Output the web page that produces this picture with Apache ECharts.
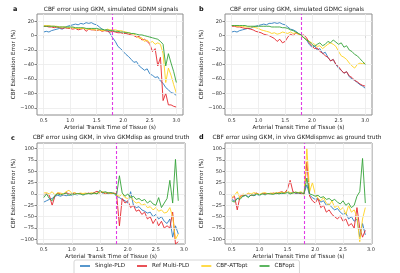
<!DOCTYPE html>
<html>
<head>
<meta charset="utf-8">
<script src="https://cdn.jsdelivr.net/npm/echarts@6/dist/echarts.min.js"></script>
<style>html,body{margin:0;padding:0;background:#fff}#main{width:400px;height:273px}</style>
</head>
<body>
<div id="main"></div>
<script>
// x grid (ATT, s)
var xsAB = [0.5,0.55,0.6,0.65,0.7,0.75,0.8,0.85,0.9,0.95,1.0,1.05,1.1,1.15,1.2,1.25,1.3,1.35,1.4,1.45,1.5,1.55,1.6,1.65,1.7,1.75,1.8,1.85,1.9,1.95,2.0,2.05,2.1,2.15,2.2,2.25,2.3,2.35,2.4,2.45,2.5,2.55,2.6,2.65,2.7,2.75,2.8,2.85,2.9,2.95,3.0];
var xsCD = [0.5,0.55,0.6,0.65,0.7,0.75,0.8,0.85,0.9,0.95,1.0,1.05,1.1,1.15,1.2,1.25,1.3,1.35,1.4,1.45,1.5,1.55,1.6,1.65,1.7,1.75,1.8,1.85,1.9,1.95,2.0,2.05,2.1,2.15,2.2,2.25,2.3,2.35,2.4,2.45,2.5,2.55,2.6,2.65,2.7,2.75,2.8,2.85,2.9];

var names = ['Single-PLD', 'Ref Multi-PLD', 'CBF-ATTopt', 'CBFopt'];
var colors = ['#2d7dc0', '#e4262d', '#ffd21f', '#34a339'];

var titles = [
  'CBF error using GKM, simulated GDNM signals',
  'CBF error using GKM, simulated GDMC signals',
  'CBF error using GKM, in vivo GKMdisp as ground truth',
  'CBF error using GKM, in vivo GKMdispmvc as ground truth'
];

var xTicks = [0.5, 1.0, 1.5, 2.0, 2.5, 3.0];
var yTicksAB = [-100, -80, -60, -40, -20, 0, 20];
var yTicksCD = [-100, -75, -50, -25, 0, 25, 50, 75, 100];
var attLine = 1.8;

// panel a
var aSingle = [5,6,5,7,8,9,10,9,11,13, 14,15,16,15,17,16,18,17,18,16, 15,12,9,7,8,3,-3,-8,-15,-18, -22,-26,-29,-33,-37,-36,-42,-45,-48,-46, -53,-55,-58,-57,-63,-66,-72,-75,-79,-80, -83];
var aMulti  = [13,13,12,12,11,12,11,10,11,10, 10,9,10,8,9,10,6,9,8,8, 7,8,6,7,6,5,6,5,4,4, 3,3,2,1,0,-2,-1,-6,-5,-8, -12,-22,-18,-42,-30,-90,-80,-96,-96,-98, -99];
var aAtt    = [14,14,14,13,13,13,12,12,12,11, 11,11,10,10,10,10,9,9,9,8, 8,8,7,7,9,8,8,8,7,7, 6,5,4,3,2,0,-4,-3,-8,-6, -10,-8,-12,-10,-12,-25,-65,-45,-55,-68, -80];
var aOpt    = [13,13,13,13,13,12,12,12,12,12, 12,12,11,11,11,11,10,10,10,10, 10,9,9,8,8,7,7,6,6,5, 5,4,4,3,3,2,1,1,0,-1, -2,-3,-4,-5,-8,-12,-42,-25,-38,-50, -65];

// panel b
var bSingle = [5,6,5,7,8,9,10,10,12,13, 14,15,16,15,17,17,18,17,18,16, 15,12,9,8,6,3,0,-3,-6,-12, -16,-14,-20,-18,-25,-23,-30,-35,-33,-40, -45,-48,-52,-50,-57,-60,-62,-65,-68,-70, -73];
var bMulti  = [13,13,12,12,11,10,10,9,8,6, 5,4,2,1,0,-2,-4,-8,-5,-10, -8,-2,2,0,4,2,0,1,-3,-10, -14,-18,-17,-22,-24,-28,-30,-35,-33,-40, -43,-48,-52,-50,-56,-58,-62,-64,-67,-69, -70];
var bAtt    = [14,14,13,13,13,12,12,12,12,11, 10,8,7,6,5,3,4,2,3,5, 4,3,5,3,4,2,0,-3,-6,-8, -10,-12,-15,-14,-18,-15,-12,-10,-12,-15, -22,-28,-30,-33,-38,-42,-45,-40,-38,-39, -38];
var bOpt    = [14,14,14,14,14,14,13,13,13,13, 13,13,13,13,13,12,12,12,12,11, 11,10,8,7,5,3,1,-3,-6,-8, -12,-15,-12,-10,-14,-12,-8,-10,-6,-9, -12,-10,-16,-14,-20,-22,-26,-28,-32,-36, -40];

// panel c
var cSingle = [-18,-15,-12,-10,-5,-3,-5,-2,-4,-2, -3,-1,-2,0,-2,-1,0,-1,2,0, 5,2,3,0,2,1,-5,-8,-12,-15, -20,5,-25,-30,-28,-35,-38,-42,-40,-50, -45,-55,-50,-60,-65,-55,-95,-70,-88];
var cMulti  = [-2,0,-3,-25,-5,2,0,-2,3,0, -1,2,0,1,-1,0,2,0,3,6, 2,4,0,3,1,2,0,-70,-10,-20, -15,-30,-25,-38,-35,-45,-40,-55,-50,-65, -55,-70,-60,-75,-70,-75,-40,-110,-105];
var cAtt    = [2,3,0,5,-2,3,2,0,5,8, 2,3,0,2,1,2,0,3,1,2, 3,5,2,3,0,2,-3,-5,0,-8, -10,-5,-15,-20,-18,-25,-22,-30,-28,-35, -30,-38,-35,-42,-40,-30,-50,-100,-88];
var cOpt    = [-8,0,-10,-15,-3,0,-2,0,2,-3, 0,-1,1,0,-2,0,1,0,2,0, 8,3,5,2,3,1,-2,40,2,-5, 0,-8,-5,-12,-10,-15,-12,-20,-15,-22, -25,-8,-30,-20,-10,30,-20,76,-15];

// panel d
var dSingle = [-12,-15,-10,-8,-5,-3,-6,-2,-4,-1, -3,0,-2,0,-1,1,0,2,0,3, 5,2,4,1,2,0,2,20,-3,-8, -12,-10,-18,-15,-25,-22,-30,-35,-32,-40, -45,-42,-55,-50,-60,-55,-95,-65,-90];
var dMulti  = [-10,-5,-35,-5,-3,-2,0,-3,-1,2, -2,0,1,-1,0,2,0,3,5,2, 10,30,5,2,3,0,0,70,-5,-15, -20,-10,-30,-25,-40,-35,-45,-50,-55,-48, -60,-55,-70,-65,-75,-30,-75,-95,-80];
var dAtt    = [-8,-3,5,-10,0,-2,2,0,3,1, -1,2,3,0,2,1,3,2,4,2, 6,3,2,4,3,5,-3,100,5,25, 0,-10,-15,-8,-20,-25,-15,-30,-25,-35, -30,-45,-25,-40,-35,-50,-105,-55,-30];
var dOpt    = [-15,-18,-10,-12,-5,-3,-8,-2,-3,0, -2,0,-1,1,0,-1,2,0,2,1, 3,0,2,4,2,3,0,35,0,-2, -5,-3,-8,-6,-12,-10,-15,-12,-18,-22, -15,-25,-20,-30,-25,-5,5,78,-20];

var panels = [
  { xs: xsAB, ys: [aSingle, aMulti, aAtt, aOpt] },
  { xs: xsAB, ys: [bSingle, bMulti, bAtt, bOpt] },
  { xs: xsCD, ys: [cSingle, cMulti, cAtt, cOpt] },
  { xs: xsCD, ys: [dSingle, dMulti, dAtt, dOpt] }
];

var font = 'DejaVu Sans';
var grids = [
  { left: 37, top: 14, width: 146, height: 101 },
  { left: 225, top: 14, width: 147, height: 101 },
  { left: 37, top: 143, width: 148, height: 101 },
  { left: 225, top: 143, width: 147, height: 101 }
];
var xRanges = [[0.375, 3.125], [0.375, 3.125], [0.38, 3.02], [0.38, 3.02]];
var yRanges = [[-110, 30], [-110, 30], [-110, 112], [-110, 112]];
var titleCenters = [[111, 6], [297, 6], [111, 134.5], [297, 134.5]];
var letters = [['a', 13, 6], ['b', 199, 6], ['c', 11, 135], ['d', 199, 134]];

function fmtNum(v) {
  return v < 0 ? '\u2212' + Math.abs(v) : String(v);
}

var chartDom = document.getElementById('main');
var myChart = echarts.init(chartDom, null, { renderer: 'canvas' });

var xAxes = [], yAxes = [], series = [], titleList = [];
grids.forEach(function (g, i) {
  g.show = true;
  g.borderColor = '#8c8c8c';
  g.borderWidth = 1;
  g.backgroundColor = '#fff';
  g.containLabel = false;

  xAxes.push({
    type: 'value', gridIndex: i, min: xRanges[i][0], max: xRanges[i][1],
    name: 'Arterial Transit Time of Tissue (s)', nameLocation: 'middle', nameGap: 10,
    nameTextStyle: { fontSize: 5.6, color: '#222', fontFamily: font },
    axisLine: { show: false },
    axisTick: { show: true, length: 2.5, customValues: xTicks, lineStyle: { color: '#666', width: 0.8 } },
    axisLabel: { fontSize: 5, color: '#333', margin: 3, fontFamily: font, customValues: xTicks,
      formatter: function (v) { return v.toFixed(1); } },
    splitLine: { show: false }
  });
  var yt = i < 2 ? yTicksAB : yTicksCD;
  yAxes.push({
    type: 'value', gridIndex: i, min: yRanges[i][0], max: yRanges[i][1],
    name: 'CBF Estimation Error (%)', nameLocation: 'middle', nameGap: 18, nameRotate: 90,
    nameTextStyle: { fontSize: 5.6, color: '#222', fontFamily: font },
    axisLine: { show: false },
    axisTick: { show: true, length: 2.5, customValues: yt, lineStyle: { color: '#666', width: 0.8 } },
    axisLabel: { fontSize: 5, color: '#333', margin: 3, fontFamily: font, customValues: yt, formatter: fmtNum },
    splitLine: { show: false }
  });

  titleList.push({
    text: titles[i], left: titleCenters[i][0], top: titleCenters[i][1], textAlign: 'center', padding: 0,
    textStyle: { fontSize: 5.8, fontWeight: 'normal', color: '#222', fontFamily: font }
  });
  titleList.push({
    text: letters[i][0], left: letters[i][1], top: letters[i][2], padding: 0,
    textStyle: { fontSize: 6.5, fontWeight: 'bold', color: '#111', fontFamily: font }
  });

  // light grid lines at the tick values
  var gridLines = xTicks.map(function (v) { return { xAxis: v }; })
    .concat(yt.map(function (v) { return { yAxis: v }; }));
  series.push({
    type: 'line', xAxisIndex: i, yAxisIndex: i, data: [], z: 1,
    markLine: {
      silent: true, symbol: 'none', label: { show: false }, animation: false,
      lineStyle: { color: '#ebebeb', type: 'solid', width: 0.8 },
      data: gridLines
    }
  });

  var p = panels[i];
  p.ys.forEach(function (ys, k) {
    var s = {
      name: names[k], type: 'line', xAxisIndex: i, yAxisIndex: i,
      data: p.xs.map(function (x, j) { return [x, ys[j]]; }),
      showSymbol: false, symbol: 'none',
      lineStyle: { color: colors[k], width: 0.9 },
      itemStyle: { color: colors[k] },
      z: 2 + k
    };
    if (k === 3) {
      s.markLine = {
        silent: true, symbol: 'none', label: { show: false },
        lineStyle: { color: '#e03be6', type: [3, 2], width: 1.1 },
        data: [{ xAxis: attLine }]
      };
    }
    series.push(s);
  });
});

var option = {
  animation: false,
  backgroundColor: '#fff',
  textStyle: { fontFamily: font },
  title: titleList,
  grid: grids,
  xAxis: xAxes,
  yAxis: yAxes,
  legend: {
    data: names, left: 74, top: 260, icon: 'rect', itemWidth: 10, itemHeight: 1.6, itemGap: 12,
    textStyle: { fontSize: 5.6, color: '#222', fontFamily: font },
    borderColor: '#cccccc', borderWidth: 0.8, borderRadius: 2, padding: [3, 5, 6, 6]
  },
  series: series
};

option && myChart.setOption(option);
</script>
</body>
</html>
